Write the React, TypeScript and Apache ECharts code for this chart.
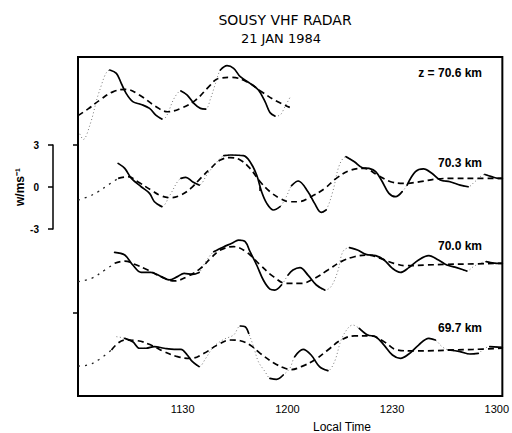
import React, { useEffect, useRef } from "react";
import * as echarts from "echarts";

// time in minutes after 11:00 local time, w in m/s
const xTickValues = [30, 60, 90, 120];
const xTickLabels = ["1130", "1200", "1230", "1300"];
const scaleTicks = [-3, 0, 3];

// z = 70.6 km
const dashed706: [number, number][] = [[0,-0.9],[3,-0.4],[6.2,0.2],[10,0.8],[13.8,0.98],[17.6,0.57],[22.4,-0.26],[25.7,-0.62],[29.5,-0.38],[33.7,0.21],[37.5,1.17],[40.3,1.76],[44.1,1.83],[48.4,1.52],[52.6,0.81],[56.4,0.21],[60.7,-0.31]];
const wave706: [number, number][] = [[0.5,-2.2],[1.5,-2.6],[3.5,-1.5],[6.2,0.9],[9.1,2.36],[11,2.12],[12.4,1.41],[13.8,0.69],[15.7,0.1],[18.1,-0.1],[20.5,-0.38],[22.3,-0.86],[24,-1.14],[25.2,-1.0],[27.6,0.36],[29.5,0.86],[31.3,0.57],[33.2,-0.02],[35.1,-0.38],[36.6,-0.43],[38,0.33],[39.4,1.4],[40.8,2.36],[42.7,2.67],[44.6,2.48],[46.5,1.88],[49.3,1.41],[51.7,0.93],[53.6,0.1],[55,-0.67],[56.4,-0.93],[57.9,-0.86],[59.3,-0.26],[60.7,0.38]];
const solid706: [number, number][] = [[9.1,24],[29.5,36.6],[40.8,56.4]];

// 70.3 km
const dashed703: [number, number][] = [[0,-0.93],[2.9,-0.69],[5.8,-0.33],[8.6,0.14],[11.5,0.62],[14.3,0.74],[17.1,0.38],[20.9,-0.21],[23.8,-0.62],[26.6,-0.76],[29.5,-0.57],[32.3,-0.1],[35.1,0.62],[38,1.33],[40.8,1.93],[43.7,2.1],[46.5,1.93],[49.3,1.33],[52.2,0.38],[55,-0.33],[57.9,-0.81],[60.7,-1.05],[63.1,-1.05],[66.8,-0.69],[70.7,-0.1],[74,0.62],[78.2,1.21],[82,1.33],[85.8,0.86],[89.6,0.38],[93.4,0.26],[98.1,0.38],[102.8,0.57],[107.6,0.62],[114,0.62],[121.6,0.62]];
const wave703: [number, number][] = [[11.5,1.69],[13.4,1.33],[15.3,0.62],[18.1,0.02],[20.5,-0.45],[21.9,-1.05],[24,-1.4],[26.3,-0.6],[28.5,0.38],[29.5,0.62],[30.9,0.69],[32.8,0.38],[34.7,0.14],[37,0.9],[39.5,1.7],[41.8,2.24],[43.7,2.29],[47.4,2.24],[49.3,1.81],[51.2,0.86],[52.6,-0.33],[54.1,-1.17],[56,-1.64],[57.9,-1.4],[59.7,-0.69],[61.2,0.1],[63.1,0.43],[65.9,-0.33],[67.8,-1.17],[69.7,-1.81],[71.1,-1.64],[73,-0.33],[74.9,1.57],[76.8,2.17],[79.2,1.81],[81.5,1.38],[83.4,1.33],[85.3,1.1],[87.2,0.38],[89.1,-0.45],[91,-0.69],[92.9,-0.33],[94.3,0.14],[96.7,1.1],[99,1.29],[101.4,0.98],[103.8,0.5],[106.6,0.38],[109.5,0.14],[111.8,0.02],[113.7,0.38],[116.6,0.9],[118.5,0.74],[120.4,0.62],[121.6,0.62]];
const solid703: [number, number][] = [[11.5,24],[29.5,34.7],[41.8,57.9],[61.2,71.1],[76.8,92.9],[94.3,111.8],[116.6,121.6]];

// 70.0 km
const dashed700: [number, number][] = [[0,-0.76],[3.9,-0.52],[7.7,0.07],[10.5,0.55],[13.4,0.71],[16.2,0.48],[20,0.07],[23.8,-0.4],[27.6,-0.71],[31.3,-0.4],[35.1,0.19],[38,0.9],[40.8,1.5],[44.6,1.74],[48.4,1.33],[52.2,0.43],[56,-0.4],[59.7,-0.88],[64,-0.88],[67.8,-0.52],[71.6,0.07],[75.4,0.67],[79.2,1.02],[83,1.14],[86.7,0.9],[90.5,0.55],[94.3,0.38],[100,0.43],[105.7,0.48],[111.4,0.5],[121.6,0.55]];
const wave700: [number, number][] = [[10.5,1.33],[13.4,1.14],[15.7,0.43],[18.1,-0.1],[20.9,-0.1],[23.8,-0.4],[26.1,-0.64],[28.5,-0.4],[30.4,-0.17],[32.8,-0.24],[34.7,-0.1],[36.6,0.67],[38.9,1.38],[41.8,1.74],[44.1,1.98],[46,2.21],[47.9,2.1],[49.3,1.38],[51.2,0.43],[53.1,-0.64],[55,-1.29],[56.4,-1.36],[58.3,-1.0],[60.2,-0.29],[61.6,0.07],[63.6,0.24],[65.9,-0.29],[68.3,-1.0],[70.7,-1.36],[72.5,-1.12],[74.4,-0.05],[75.9,1.38],[77.8,1.67],[80.1,1.5],[82.5,1.19],[85.3,1.1],[87.7,0.79],[90.1,0.19],[92.4,-0.1],[94.8,0.24],[97.6,0.79],[100.5,1.1],[103.3,0.79],[105.7,0.43],[108.5,0.24],[111.4,0],[113.3,0.31],[115.1,0.55],[117,0.67],[119.9,0.55],[121.6,0.55]];
const solid700: [number, number][] = [[10.5,34.7],[38.9,58.3],[60.2,70.7],[77.8,111.4],[117,121.6]];

// 69.7 km
const dashed697: [number, number][] = [[0,-0.79],[2.9,-0.71],[5.8,-0.36],[9.6,0.36],[13.4,1.07],[17.1,1.02],[20.9,0.71],[24.7,0.24],[28.5,-0.12],[32.3,-0.24],[36.1,0.12],[39.9,0.71],[43.7,1.07],[46.5,1.02],[49.3,0.71],[52.2,0.12],[56,-0.55],[59.3,-0.95],[61,-1.05],[64,-0.83],[67.8,-0.36],[71.6,0.36],[75.4,1.07],[79.2,1.36],[83.9,1.36],[87.7,0.95],[91.5,0.36],[96.2,0.29],[101.9,0.31],[107.6,0.36],[113.3,0.4],[121.6,0.48]];
const wave697: [number, number][] = [[11,1.31],[13.4,1.19],[15.7,0.95],[17.6,0.48],[19.5,0.48],[21.9,0.6],[24.7,0.48],[27.6,0.4],[29.5,0.4],[31.3,0],[32.8,-0.48],[34.7,-0.83],[36.6,-0.24],[38.9,0.6],[41.8,1.12],[44.6,1.43],[46.5,2.07],[47.9,2.02],[48.9,1.55],[50.3,0.6],[51.7,-0.48],[53.6,-1.19],[55,-1.67],[56.9,-1.74],[58.8,-1.43],[60.7,-0.95],[62.1,-0.12],[64.5,0.4],[66.8,0],[69.2,-0.83],[71.6,-1.12],[73.5,-0.48],[75.4,1.07],[77.3,1.9],[78.7,2.14],[80.6,1.9],[83,1.43],[85.3,1.31],[87.7,0.71],[90.1,0],[92.4,-0.24],[94.8,0.07],[97.6,0.71],[100.5,1.19],[102.4,1.07],[104.3,0.6],[106.1,0.36],[109.5,0.24],[112.3,0.07],[114.7,0.12],[116.1,0.4],[118,0.6],[121.6,0.55]];
const solid697: [number, number][] = [[13.4,34.7],[46.5,48.9],[55,58.8],[62.1,71.6],[80.6,102.4],[106.1,114.7],[118,121.6]];

const panels = [
  { label: "z = 70.6 km", offset: 6, dashed: dashed706, wave: wave706, solid: solid706, split: 0, labelY: 73 },
  { label: "70.3 km", offset: 0, dashed: dashed703, wave: wave703, solid: solid703, split: 11.5, labelY: 163 },
  { label: "70.0 km", offset: -6, dashed: dashed700, wave: wave700, solid: solid700, split: 10.5, labelY: 246 },
  { label: "69.7 km", offset: -12, dashed: dashed697, wave: wave697, solid: solid697, split: 9.6, labelY: 328 },
];

function shift(pts: [number, number][], off: number) {
  return pts.map(([t, w]) => [t, +(w + off).toFixed(3)]);
}

function solidData(pts: [number, number][], ranges: [number, number][], off: number) {
  const out: any[] = [];
  ranges.forEach((r, i) => {
    if (i > 0) out.push([(ranges[i - 1][1] + r[0]) / 2, "-"]);
    pts.forEach(([t, w]) => {
      if (t >= r[0] - 1e-6 && t <= r[1] + 1e-6) out.push([t, +(w + off).toFixed(3)]);
    });
  });
  return out;
}

export default function App() {
  const ref = useRef<HTMLDivElement>(null);
  useEffect(() => {
    if (!ref.current) return;
    const chart = echarts.init(ref.current, undefined, { renderer: "svg" });
    const series: any[] = [];
    panels.forEach((p) => {
      const lead = p.dashed.filter((d) => d[0] <= p.split);
      const main = p.dashed.filter((d) => d[0] >= p.split);
      if (lead.length > 1) {
        series.push({
          type: "line", xAxisIndex: 0, yAxisIndex: 0, data: shift(lead, p.offset), smooth: 0.4,
          symbol: "none", silent: true, z: 2,
          lineStyle: { color: "#222", width: 1.3, type: [2, 5] },
        });
      }
      series.push({
        type: "line", xAxisIndex: 0, yAxisIndex: 0, data: shift(main, p.offset), smooth: 0.4,
        symbol: "none", silent: true, z: 3,
        lineStyle: { color: "#000", width: 1.7, type: [6, 4] },
      });
      series.push({
        type: "line", xAxisIndex: 0, yAxisIndex: 0, data: shift(p.wave, p.offset), smooth: 0.35,
        symbol: "none", silent: true, z: 2,
        lineStyle: { color: "#777", width: 1, type: [1, 2.5] },
      });
      series.push({
        type: "line", xAxisIndex: 0, yAxisIndex: 0, data: solidData(p.wave, p.solid, p.offset), smooth: 0.35,
        symbol: "none", silent: true, z: 4, connectNulls: false,
        lineStyle: { color: "#000", width: 1.7, cap: "round" },
      });
    });

    const graphics: any[] = [
      { type: "text", x: 285, y: 20, style: { text: "SOUSY VHF RADAR", fill: "#000", fontSize: 14, fontFamily: "DejaVu Sans", align: "center", verticalAlign: "middle" } },
      { type: "text", x: 281, y: 38, style: { text: "21 JAN 1984", fill: "#000", fontSize: 13, fontFamily: "DejaVu Sans", align: "center", verticalAlign: "middle" } },
      { type: "text", x: 342, y: 427, style: { text: "Local Time", fill: "#000", fontSize: 12, fontFamily: "Liberation Sans", align: "center", verticalAlign: "middle" } },
    ];
    panels.forEach((p) => {
      graphics.push({ type: "text", x: 482, y: p.labelY, style: { text: p.label, fill: "#000", fontSize: 12, fontWeight: "bold", fontFamily: "Liberation Sans", align: "right", verticalAlign: "middle" } });
    });

    chart.setOption({
      animation: false,
      backgroundColor: "#fff",
      grid: [
        { left: 78, top: 57, width: 428, height: 339, show: true, borderColor: "#000", borderWidth: 2, backgroundColor: "transparent" },
        { left: 53, top: 145, width: 1, height: 84 },
      ],
      xAxis: [
        {
          type: "value", gridIndex: 0, min: 0, max: 121.6,
          axisLine: { show: false }, splitLine: { show: false },
          axisTick: { show: true, customValues: [52], length: 4, lineStyle: { color: "#000", width: 1.5 } },
          axisLabel: {
            show: true, customValues: xTickValues, margin: 7, color: "#000", fontSize: 11, fontFamily: "Liberation Sans",
            formatter: (v: number) => { const i = xTickValues.indexOf(v); return i >= 0 ? xTickLabels[i] : ""; },
          },
        },
        { type: "value", gridIndex: 1, show: false, min: 0, max: 1 },
      ],
      yAxis: [
        {
          type: "value", gridIndex: 0, min: -14.93, max: 9.29,
          axisLine: { show: false }, splitLine: { show: false },
          axisTick: { show: true, customValues: [3, -9], length: 5, lineStyle: { color: "#000", width: 1.5 } },
          axisLabel: { show: false },
        },
        {
          type: "value", gridIndex: 1, min: -3, max: 3, interval: 3, position: "left",
          axisLine: { show: true, lineStyle: { color: "#000", width: 1.5 } },
          axisTick: { show: true, length: 5, lineStyle: { color: "#000", width: 1.5 } },
          splitLine: { show: false },
          axisLabel: { show: true, customValues: scaleTicks, margin: 14, color: "#000", fontSize: 10, fontWeight: "bold", fontFamily: "Liberation Sans" },
          name: "w/ms\u207B\u00B9", nameLocation: "middle", nameRotate: 90, nameGap: 22,
          nameTextStyle: { color: "#000", fontSize: 12, fontWeight: "bold", fontFamily: "Liberation Sans" },
        },
      ],
      series,
      graphic: graphics,
    });
    return () => chart.dispose();
  }, []);
  return <div ref={ref} style={{ position: "absolute", left: 0, top: 0, width: 512, height: 433 }} />;
}
